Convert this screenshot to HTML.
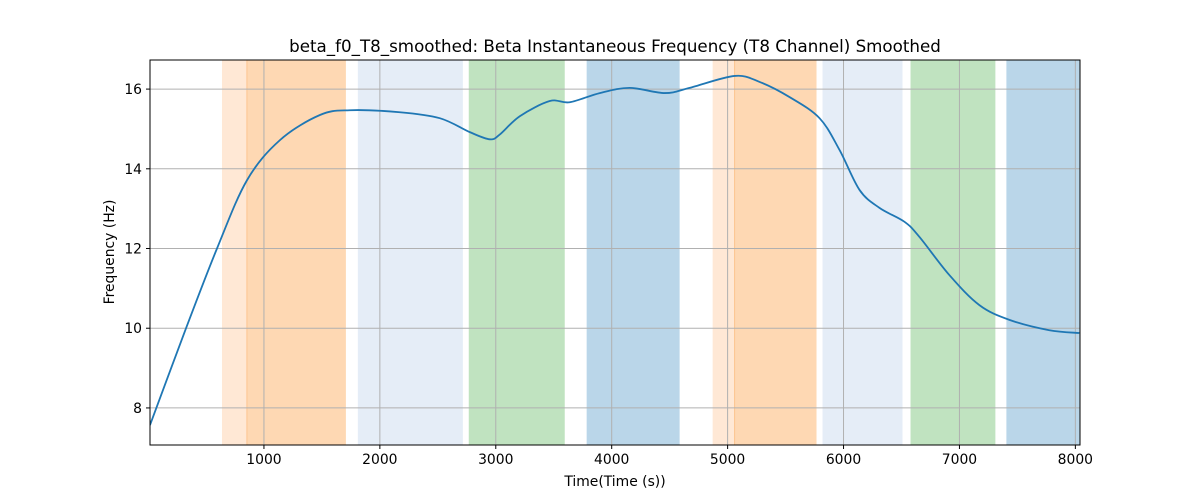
<!DOCTYPE html>
<html><head><meta charset="utf-8">
<style>
body{margin:0;background:#fff;}
svg{display:block;font-family:"DejaVu Sans","Liberation Sans",sans-serif;}
</style></head>
<body>
<svg id="chart" width="1200" height="500"></svg>
<script>
const xs=[17,328,595,853,1138,1483,1741,2172,2517,2776,2948,3034,3207,3466,3638,3897,4155,4457,4672,5060,5276,5534,5793,5966,6138,6310,6526,6655,6914,7172,7431,7776,8034];
const ys=[7.57,10.0,12.0,13.71,14.72,15.35,15.47,15.42,15.27,14.92,14.74,14.86,15.32,15.70,15.67,15.90,16.03,15.90,16.03,16.33,16.18,15.80,15.27,14.47,13.47,13.02,12.67,12.29,11.33,10.58,10.21,9.95,9.88];
const bandStart=[638,853,1810,2767,3784,4871,5060,5819,6578,7405];
const bandEnd=[853,1707,2716,3595,4586,5060,5767,6509,7310,8040];
const bandColor=['#ffe8d5','#fed8b3','#e5edf7','#c0e3c0','#bad6e9','#ffe8d5','#fed8b3','#e5edf7','#c0e3c0','#bad6e9'];
const xTicks=[1000,2000,3000,4000,5000,6000,7000,8000];
const yTicks=[8,10,12,14,16];
const L=150,R=1080,T=60,B=445,X0=17,X1=8040,Y0=7.07,Y1=16.73;
const sx=v=>L+(v-X0)/(X1-X0)*(R-L);
const sy=v=>B-(v-Y0)/(Y1-Y0)*(B-T);
const svg=document.getElementById('chart');
const NS='http://www.w3.org/2000/svg';
function mk(tag,attrs,parent){const e=document.createElementNS(NS,tag);for(const k in attrs)e.setAttribute(k,attrs[k]);(parent||svg).appendChild(e);return e;}
for(let i=0;i<bandStart.length;i++){
  const r=mk('rect',{x:sx(bandStart[i]),y:T,width:sx(bandEnd[i])-sx(bandStart[i]),height:B-T,fill:bandColor[i]});
  
  
  if(bandColor[i]==='#fed8b3'){mk('line',{x1:sx(bandStart[i]),x2:sx(bandStart[i]),y1:T,y2:B,stroke:'#fcc590','stroke-width':1});}
}
xTicks.forEach(t=>{
  const g=mk('line',{x1:sx(t),x2:sx(t),y1:T,y2:B,stroke:'#b0b0b0','stroke-width':1});
  
  
  mk('line',{x1:sx(t),x2:sx(t),y1:B,y2:B+4,stroke:'#000'});
  const tx=mk('text',{x:sx(t),y:B+19,'text-anchor':'middle','font-size':13.9});
  tx.textContent=t;
  
  
});
yTicks.forEach(t=>{
  const g=mk('line',{x1:L,x2:R,y1:sy(t),y2:sy(t),stroke:'#b0b0b0','stroke-width':1});
  
  
  mk('line',{x1:L-4,x2:L,y1:sy(t),y2:sy(t),stroke:'#000'});
  const tx=mk('text',{x:L-8,y:sy(t)+5,'text-anchor':'end','font-size':13.9});
  tx.textContent=t;
  
  
});
const P=xs.map((x,i)=>[sx(x),sy(ys[i])]);
let d='M'+P[0][0]+','+P[0][1];
for(let i=0;i<P.length-1;i++){
  const p0=P[Math.max(0,i-1)],p1=P[i],p2=P[i+1],p3=P[Math.min(P.length-1,i+2)];
  const c1=[p1[0]+(p2[0]-p0[0])/6,p1[1]+(p2[1]-p0[1])/6];
  const c2=[p2[0]-(p3[0]-p1[0])/6,p2[1]-(p3[1]-p1[1])/6];
  d+=' C'+c1+' '+c2+' '+p2;
}
const clip=mk('clipPath',{id:'cp'});mk('rect',{x:L,y:T,width:R-L,height:B-T},clip);
const line=mk('path',{d:d,fill:'none',stroke:'#1f77b4','stroke-width':1.8,'clip-path':'url(#cp)'});


const fr=mk('rect',{x:L,y:T,width:R-L,height:B-T,fill:'none',stroke:'#000','stroke-width':1});


const title=mk('text',{x:615,y:52,'text-anchor':'middle','font-size':16.7});
title.textContent='beta_f0_T8_smoothed: Beta Instantaneous Frequency (T8 Channel) Smoothed';


const xl=mk('text',{x:615,y:486,'text-anchor':'middle','font-size':13.9});
xl.textContent='Time(Time (s))';


const yl=mk('text',{x:114,y:252,'text-anchor':'middle','font-size':13.9,transform:'rotate(-90 114 252)'});
yl.textContent='Frequency (Hz)';


</script>
</body></html>
